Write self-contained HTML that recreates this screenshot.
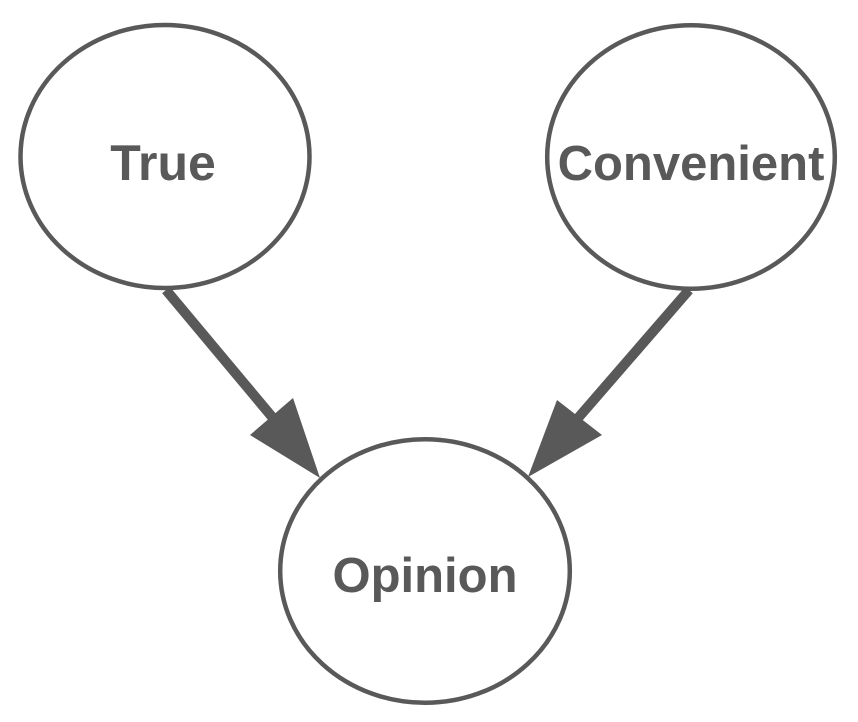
<!DOCTYPE html>
<html>
<head>
<meta charset="utf-8">
<style>
html,body{margin:0;padding:0;background:#fff;}
svg{display:block;}
text{font-family:"Liberation Sans",Arial,sans-serif;font-weight:bold;fill:#595959;}
</style>
</head>
<body>
<svg width="858" height="722" viewBox="0 0 858 722" xmlns="http://www.w3.org/2000/svg">
  <rect width="858" height="722" fill="#fff"/>
  <!-- ellipses -->
  <ellipse cx="165" cy="156.5" rx="144.5" ry="131.5" fill="#fff" stroke="#595959" stroke-width="4.5"/>
  <ellipse cx="691" cy="157" rx="143.8" ry="131.8" fill="#fff" stroke="#595959" stroke-width="4.5"/>
  <ellipse cx="425" cy="571" rx="144.8" ry="131.8" fill="#fff" stroke="#595959" stroke-width="4.5"/>
  <!-- left arrow -->
  <line x1="166" y1="290" x2="278" y2="424" stroke="#595959" stroke-width="10"/>
  <polygon points="320,478 250,435 293,398" fill="#595959"/>
  <!-- right arrow -->
  <line x1="689" y1="290" x2="572" y2="425" stroke="#595959" stroke-width="10"/>
  <polygon points="528,477 557,400 602,435" fill="#595959"/>
  <!-- labels -->
  <text x="163" y="180" font-size="50" text-anchor="middle">True</text>
  <text x="691" y="180" font-size="49" text-anchor="middle">Convenient</text>
  <text x="425" y="592" font-size="49" text-anchor="middle">Opinion</text>
</svg>
</body>
</html>
